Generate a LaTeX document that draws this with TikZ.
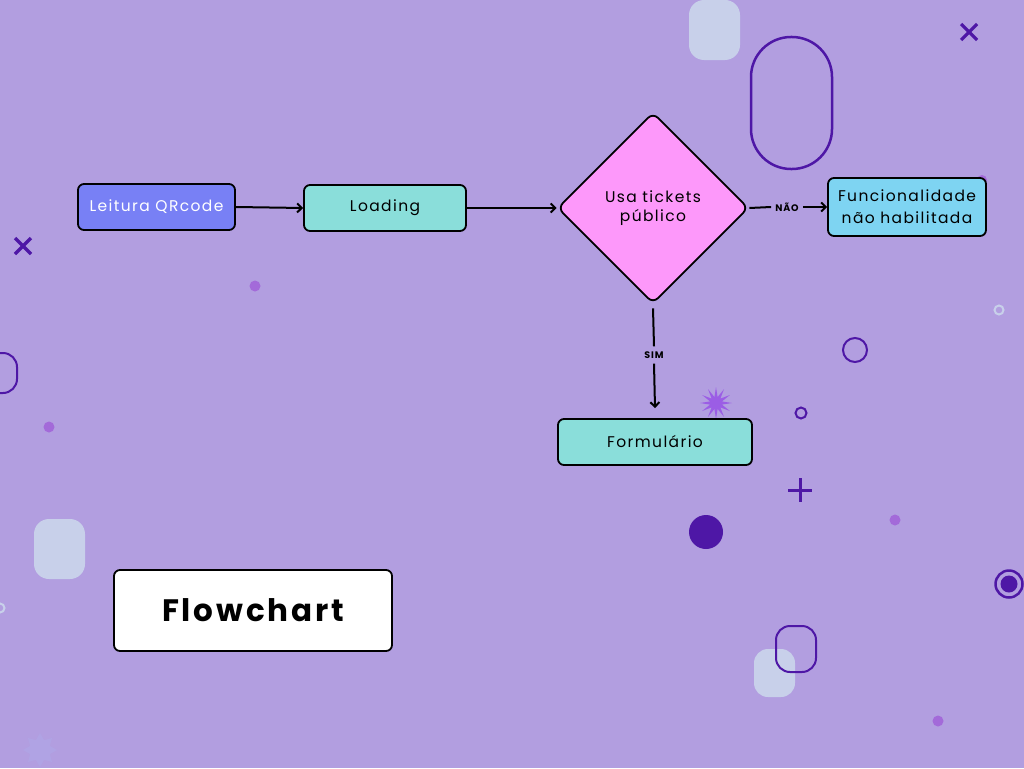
\documentclass[tikz,border=0pt]{standalone}
\usepackage{fontspec}
\setmainfont{Poppins}[LetterSpace=9]
\usetikzlibrary{shapes.geometric,arrows.meta}
\definecolor{bg}{HTML}{B29EE0}
\definecolor{qrblue}{HTML}{7880F5}
\definecolor{teal}{HTML}{8ADEDA}
\definecolor{pinkd}{HTML}{FD98FA}
\definecolor{lblue}{HTML}{7ED4F2}
\definecolor{dpurple}{HTML}{4E17A6}
\definecolor{mpurple}{HTML}{A36AD9}
\definecolor{starp}{HTML}{9B5DE5}
\definecolor{lightsq}{HTML}{C8D0EA}
\definecolor{faint}{HTML}{B0A3E4}
\tikzset{
  box/.style={draw=black, line width=1.8pt, rounded corners=6pt, inner sep=0pt, font=\fontsize{15.5}{18}\selectfont, align=center},
  conn/.style={line width=2pt, draw=black},
  arr/.style={conn, -{Straight Barb[length=4.5pt,width=9pt,line width=2pt]}},
  lbl/.style={font=\bfseries\fontsize{9.5}{11}\selectfont, inner sep=4pt},
  deco/.style={draw=dpurple, line width=2.5pt},
  xmark/.style={draw=dpurple, line width=3.2pt},
}
\begin{document}
\begin{tikzpicture}[x=1pt,y=-1pt]
\useasboundingbox (0,0) rectangle (1024,768);
\fill[bg] (0,0) rectangle (1024,768);
\begin{scope}
\clip (0,0) rectangle (1024,768);
% decorations
\fill[lightsq, rounded corners=15pt] (689,0) rectangle (740,60);
\draw[deco, rounded corners=40pt] (751,37) rectangle (832,169);
\draw[xmark] (961,24) -- (977,40) (977,24) -- (961,40);
\draw[xmark] (15,238) -- (31,254) (31,238) -- (15,254);
\fill[mpurple] (255,286) circle (5.5);
\fill[mpurple] (49,427) circle (5.5);
\draw[deco, line width=2pt, rounded corners=14pt] (-25,353) rectangle (17,393);
\draw[lightsq, line width=2pt] (999,310) circle (4.5);
\draw[deco, line width=2pt] (855,350) circle (12);
\node[star, star points=12, star point ratio=2.6, minimum size=32pt, fill=starp, inner sep=0pt] (st) at (716,403) {};
\draw[deco, line width=2pt] (801,413) circle (5.5);
\draw[xmark, line width=3pt] (788,490) -- (812,490) (800,478) -- (800,502);
\fill[dpurple] (706,532) circle (17);
\fill[mpurple] (895,520) circle (5.5);
\draw[deco, line width=2.5pt] (1009,584) circle (13.5);
\fill[dpurple] (1009,584) circle (8.5);
\fill[lightsq, rounded corners=14pt] (754,649) rectangle (795,697);
\draw[deco, line width=2pt, rounded corners=14pt] (776,626) rectangle (816,672);
\fill[mpurple] (938,721) circle (5.5);
\fill[lightsq, rounded corners=15pt] (34,519) rectangle (85,579);
\draw[lightsq, line width=2pt] (0,608) circle (4.5);
\node[star, star points=8, star point ratio=1.6, minimum size=34pt, fill=faint, inner sep=0pt] (fst) at (40,750) {};
\fill[mpurple] (982,180) circle (5);
\end{scope}
% flowchart nodes
\node[box, fill=qrblue, text=white, minimum width=157pt, minimum height=46pt] (qr) at (156.5,207) {Leitura QRcode};
\node[box, fill=teal, minimum width=162pt, minimum height=46pt] (load) at (385,208) {Loading};
\node[diamond, draw=black, line width=1.8pt, fill=pinkd, rounded corners=7pt, minimum width=191pt, minimum height=191pt, inner sep=0pt, align=center, font=\fontsize{15.5}{19.5}\selectfont] (dec) at (653,208) {Usa tickets\\público};
\node[box, fill=lblue, minimum width=158pt, minimum height=58pt, font=\fontsize{15.5}{22}\selectfont] (func) at (907,207) {Funcionalidade\\não habilitada};
\node[box, fill=teal, minimum width=194pt, minimum height=46pt] (form) at (655,442) {Formulário};
\node[box, fill=white, minimum width=278pt, minimum height=81pt, font=\bfseries\fontsize{31}{36}\selectfont\addfontfeature{LetterSpace=9}] (title) at (253,610.5) {Flowchart};
% labels
\node[lbl] (nao) at (787,207) {NÃO};
\node[lbl, inner sep=5pt] (sim) at (654,355) {SIM};
% connectors
\draw[arr] (qr.east) -- (load.west);
\draw[arr] (load.east) -- (dec.west);
\draw[conn] (dec.east) -- (nao.west);
\draw[arr] (nao.east) -- (func.west);
\draw[conn] ([yshift=-4pt]dec.south) -- (sim.north);
\draw[arr] (sim.south) -- ([yshift=10pt]form.north);
\end{tikzpicture}
\end{document}
